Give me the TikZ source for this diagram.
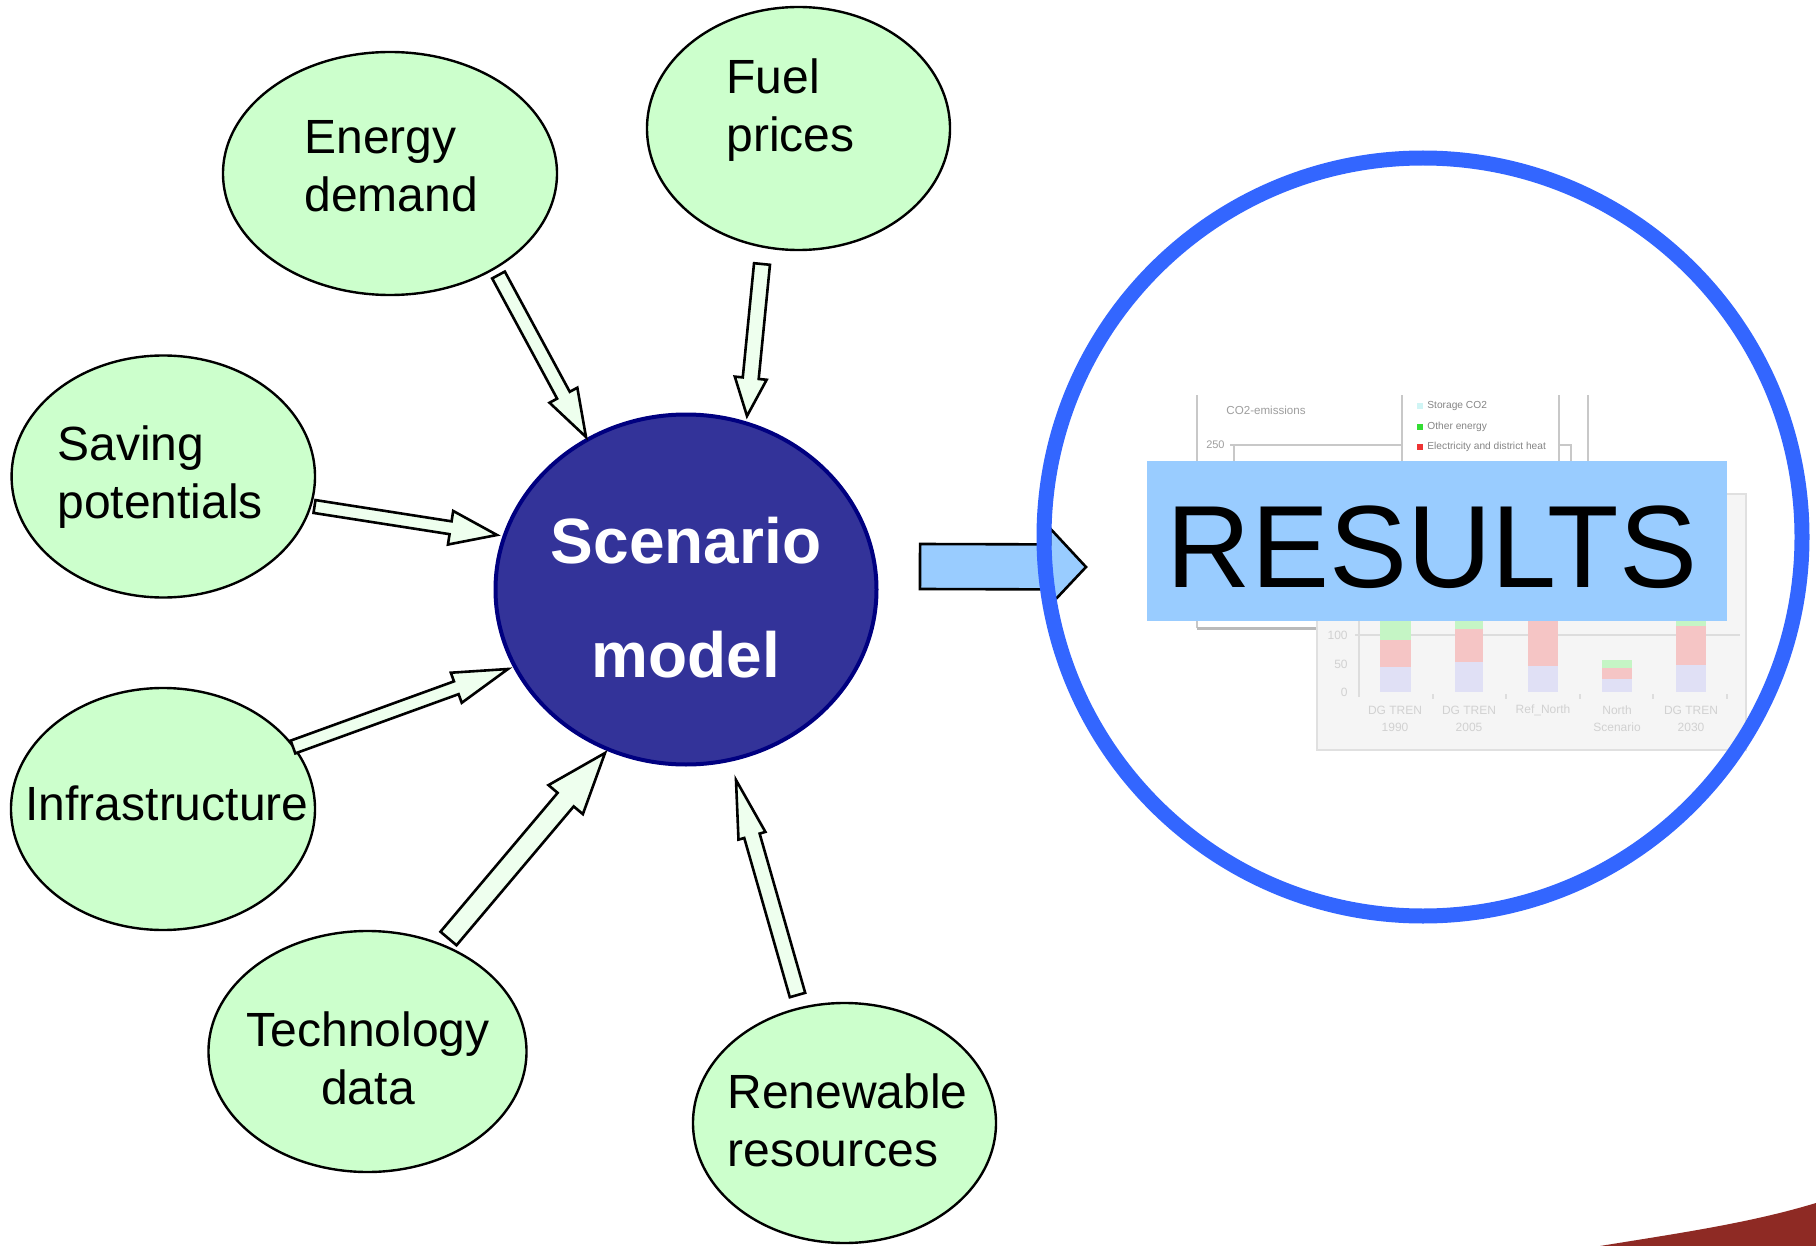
\documentclass[tikz,border=0pt]{standalone}
\usepackage{fontspec}
\setmainfont{Liberation Sans}
\usetikzlibrary{calc,shapes.geometric}
\definecolor{bubblegreen}{HTML}{CCFFCC}
\definecolor{arrowgreen}{HTML}{EEFFEE}
\definecolor{scenfill}{HTML}{333399}
\definecolor{scendraw}{HTML}{000080}
\definecolor{ringblue}{HTML}{3366FF}
\definecolor{boxblue}{HTML}{99CCFF}
\definecolor{cornerred}{HTML}{8E2A24}
\definecolor{gridgray}{HTML}{DDDDDD}
\definecolor{panelgray}{HTML}{F5F5F5}
\definecolor{chartline}{HTML}{C8C8C8}
\definecolor{barlav}{HTML}{E0E0F5}
\definecolor{barpink}{HTML}{F5C5C5}
\definecolor{bargreen}{HTML}{C5F5C5}
\definecolor{legcyan}{HTML}{D0F5F5}
\definecolor{leggreen}{HTML}{33DD33}
\definecolor{legred}{HTML}{EE3333}
\newcommand\blockarr[6]{%
  \coordinate (gah) at ($(#3)!#6!(#2)$);
  \draw[#1] ($(#2)!#4!90:(#3)$) -- ($(gah)!#4!90:(#3)$) -- ($(gah)!#5!90:(#3)$) -- (#3)
    -- ($(gah)!#5!-90:(#3)$) -- ($(gah)!#4!-90:(#3)$) -- ($(#2)!#4!-90:(#3)$) -- cycle;
}
\tikzset{
  bubble/.style={ellipse, draw=black, line width=1.2pt, fill=bubblegreen, inner sep=0pt},
  lbl/.style={font=\fontsize{24}{29}\selectfont, inner sep=0pt, align=left},
  garrow/.style={draw=black, line width=1.3pt, fill=arrowgreen, line join=miter},
  barrow/.style={draw=black, line width=1.3pt, fill=boxblue, line join=miter},
  ctext/.style={inner sep=0pt, text=black!38, font=\fontsize{5.8}{7}\selectfont},
  legtext/.style={inner sep=0pt, text=black!48, font=\fontsize{5.1}{6}\selectfont, anchor=west},
  axtext/.style={inner sep=0pt, text=black!18, font=\fontsize{6}{8.5}\selectfont},
  cline/.style={draw=chartline, line width=0.6pt},
}
\begin{document}
\begin{tikzpicture}[x=0.5pt,y=-0.5pt]
\useasboundingbox (0,0) rectangle (1816,1246);
\fill[white] (0,0) rectangle (1816,1246);

% input bubbles
\node[bubble, minimum width=167pt, minimum height=121.5pt] (energy) at (390,173.5) {};
\node[lbl, anchor=west] (energyT) at (304,166) {Energy\\demand};
\node[bubble, minimum width=151.5pt, minimum height=121.5pt] (fuel) at (798.5,128.5) {};
\node[lbl, anchor=west] (fuelT) at (726,110) {Fuel\\prices};
\node[bubble, minimum width=151.7pt, minimum height=121pt] (saving) at (163.3,476.5) {};
\node[lbl, anchor=west] (savingT) at (57,477) {Saving\\potentials};
\node[bubble, minimum width=152pt, minimum height=121pt] (infra) at (163,809) {};
\node[lbl, anchor=base] (infraT) at (167,820) {Infrastructure};
\node[bubble, minimum width=159pt, minimum height=120.5pt] (tech) at (367.5,1051.5) {};
\node[lbl, align=center] (techT) at (368,1058) {Technology\\data};
\node[bubble, minimum width=151.5pt, minimum height=120pt] (renew) at (844.5,1123) {};
\node[lbl, anchor=west] (renewT) at (727,1120) {Renewable\\resources};

% scenario model
\node[ellipse, draw=scendraw, line width=2pt, fill=scenfill, inner sep=0pt,
      minimum width=190.5pt, minimum height=175pt] (scen) at (686,589.5) {};
\node[inner sep=0pt, align=center, text=white, font=\fontsize{32}{56.75}\selectfont\bfseries]
      (scenT) at (686,597.5) {Scenario\\model};

% block arrows
\coordinate (a1t) at (498.5,275);  \coordinate (a1h) at (586,437);
\coordinate (a2t) at (762,264);    \coordinate (a2h) at (747,416);
\coordinate (a3t) at (314.5,506.5);\coordinate (a3h) at (497,535);
\coordinate (a4t) at (293,747);    \coordinate (a4h) at (508,669);
\coordinate (a5t) at (448.5,938.5);\coordinate (a5h) at (605,753);
\coordinate (a6t) at (797.5,995);  \coordinate (a6h) at (736,780);
\blockarr{garrow}{a1t}{a1h}{3.6pt}{7.9pt}{23.75pt}
\blockarr{garrow}{a2t}{a2h}{4pt}{8pt}{19pt}
\blockarr{garrow}{a3t}{a3h}{3.25pt}{8.5pt}{23.5pt}
\blockarr{garrow}{a4t}{a4h}{3.4pt}{8pt}{27.5pt}
\blockarr{garrow}{a5t}{a5h}{5.25pt}{11.25pt}{30.5pt}
\blockarr{garrow}{a6t}{a6h}{4pt}{7pt}{29pt}

% chart panel 1
\draw[cline] (1197,395) -- (1197,628);
\draw[draw=black!27, line width=1.5pt] (1197,628) -- (1317,628);
\draw[cline] (1588,395) -- (1588,494);
\node[ctext, anchor=west] (co2) at (1226,410) {CO2-emissions};
\node[ctext, anchor=east, font=\fontsize{5.5}{6}\selectfont] (c250) at (1225,445) {250};
\draw[cline] (1230,445) -- (1402,445);
\draw[cline] (1234,445) -- (1234,461);
\draw[cline] (1402,395) -- (1402,461);
\draw[cline] (1559,395) -- (1559,461);
\draw[cline] (1559,445) -- (1571,445) -- (1571,461);
\fill[legcyan] (1417,403) rectangle (1423,409);
\fill[leggreen] (1417,424) rectangle (1423,430);
\fill[legred] (1417,444) rectangle (1423,450);
\node[legtext] (lg1) at (1427,406) {Storage CO2};
\node[legtext] (lg2) at (1427,427) {Other energy};
\node[legtext] (lg3) at (1427,447) {Electricity and district heat};

% chart panel 2
\draw[fill=panelgray, draw=black!12, line width=1pt] (1317,494) rectangle (1746,750);
\draw[gridgray, line width=0.8pt] (1355,635) -- (1740,635);
\draw[gridgray, line width=0.8pt] (1359,621) -- (1359,697);
\foreach \tx in {1433,1506,1580,1653,1727} \draw[gridgray, line width=0.8pt] (\tx,694) -- (\tx,699);
\node[axtext, anchor=east] (y100) at (1348,635) {100};
\node[axtext, anchor=east] (y50) at (1348,664) {50};
\node[axtext, anchor=east] (y0) at (1348,692) {0};
% bars
\fill[barlav] (1380,692) rectangle (1411,667);
\fill[barpink] (1380,667) rectangle (1411,640);
\fill[bargreen] (1380,640) rectangle (1411,621);
\fill[barlav] (1455,692) rectangle (1483,662);
\fill[barpink] (1455,662) rectangle (1483,629);
\fill[bargreen] (1455,629) rectangle (1483,621);
\fill[barlav] (1528,692) rectangle (1558,666);
\fill[barpink] (1528,666) rectangle (1558,621);
\fill[barlav] (1602,692) rectangle (1632,679);
\fill[barpink] (1602,679) rectangle (1632,668);
\fill[bargreen] (1602,668) rectangle (1632,660);
\fill[barlav] (1676,692) rectangle (1706,665);
\fill[barpink] (1676,665) rectangle (1706,626);
\fill[bargreen] (1676,626) rectangle (1706,621);
\node[axtext, align=center] (xl1) at (1395,718.5) {DG TREN\\1990};
\node[axtext, align=center] (xl2) at (1469,718.5) {DG TREN\\2005};
\node[axtext] (xl3) at (1543,710) {Ref\_North};
\node[axtext, align=center] (xl4) at (1617,718.5) {North\\Scenario};
\node[axtext, align=center] (xl5) at (1691,718.5) {DG TREN\\2030};

% results box
\node[fill=boxblue, minimum width=290pt, minimum height=80pt, inner sep=0pt] (resbox) at (1437,541) {};
\node[inner sep=0pt, anchor=base, font=\fontsize{58.5}{60}\selectfont] (resT) at (1432,587) {RESULTS};

% blue arrow to results
\coordinate (bt) at (920,566.5);
\coordinate (bh) at (1086,567);
\blockarr{barrow}{bt}{bh}{11.25pt}{19.25pt}{18pt}

% results ring
\node[circle, draw=ringblue, line width=7.5pt, minimum size=379pt, inner sep=0pt] (ring) at (1423,537) {};

% corner shape
\fill[cornerred] (1600,1246) .. controls (1680,1233) and (1750,1223) .. (1816,1203) -- (1816,1246) -- cycle;
\end{tikzpicture}
\end{document}
